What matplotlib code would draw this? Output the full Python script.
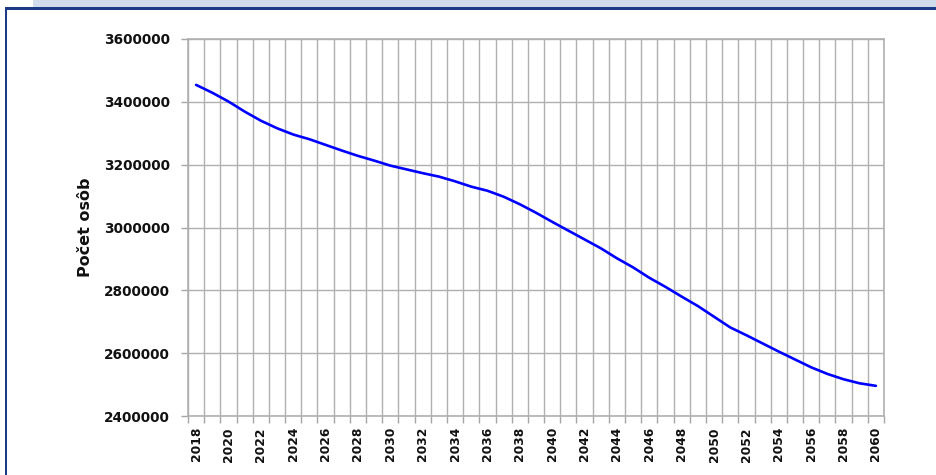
import numpy as np
import matplotlib
matplotlib.use('Agg')
import matplotlib.pyplot as plt
from matplotlib.patches import Rectangle

# population projection
years = list(range(2018, 2061))
persons = [3454000, 3429000, 3401000, 3369000, 3340000, 3316000, 3296000, 3281000,
           3263000, 3245000, 3228000, 3213000, 3197000, 3185000, 3173000, 3162000,
           3147000, 3130000, 3117000, 3098000, 3074000, 3047000, 3018000, 2990000,
           2962000, 2934000, 2902000, 2873000, 2840000, 2811000, 2780000, 2750000,
           2716000, 2682000, 2657000, 2631000, 2605000, 2580000, 2555000, 2534000,
           2517000, 2504000, 2496000]
y_ticks = [2400000, 2600000, 2800000, 3000000, 3200000, 3400000, 3600000]
x_labels = [str(y) for y in years[::2]]

W, H = 936, 475
fig = plt.figure(figsize=(W / 100, H / 100), dpi=100)
fig.patch.set_facecolor('white')

# frame bits around the chart
fig.patches.append(Rectangle((33 / W, 1 - 7.5 / H), 1, 7.5 / H, transform=fig.transFigure,
                             facecolor='#d0dcec', edgecolor='none', zorder=0))
fig.patches.append(Rectangle((4.5 / W, 1 - 10 / H), 1, 2.5 / H, transform=fig.transFigure,
                             facecolor='#1c3a86', edgecolor='none', zorder=0))
fig.patches.append(Rectangle((4.5 / W, 0), 2.5 / W, 1 - 7.5 / H, transform=fig.transFigure,
                             facecolor='#1c3a86', edgecolor='none', zorder=0))

ax = fig.add_axes([188 / W, 1 - 416 / H, (884 - 188) / W, (416 - 39) / H])

x = np.arange(len(years))
ax.plot(x, persons, color='#0000ff', lw=1.9, solid_capstyle='round', zorder=3)

ax.set_xlim(-0.5, len(years) - 0.5)
ax.set_ylim(y_ticks[0], y_ticks[-1])

# gridlines between categories, labels in the middle
ax.set_xticks(np.arange(-0.5, len(years)), minor=True)
ax.set_xticks(x[::2])
ax.set_xticklabels(x_labels, rotation=90, fontsize=8.8, fontweight='bold', color='#111111')
ax.tick_params(axis='x', which='major', length=0, pad=8)
ax.tick_params(axis='x', which='minor', length=5, width=1, color='#a6a6a6')
ax.grid(True, axis='x', which='minor', color='#b0b0b0', lw=1)

ax.set_yticks(y_ticks)
ax.set_yticklabels([str(v) for v in y_ticks], fontsize=9.8, fontweight='bold', color='#111111')
ax.tick_params(axis='y', length=5, width=1, color='#a6a6a6', pad=8)
ax.grid(True, axis='y', color='#b0b0b0', lw=1)
ax.set_axisbelow(True)

for s in ax.spines.values():
    s.set_color('#b0b0b0')
    s.set_linewidth(1.2)

fig.text(85 / W, 1 - 227.5 / H, 'Počet osôb', rotation=90, fontsize=11.5,
         fontweight='bold', ha='center', va='center', color='#111111')

fig.savefig('out.png', dpi=100)
